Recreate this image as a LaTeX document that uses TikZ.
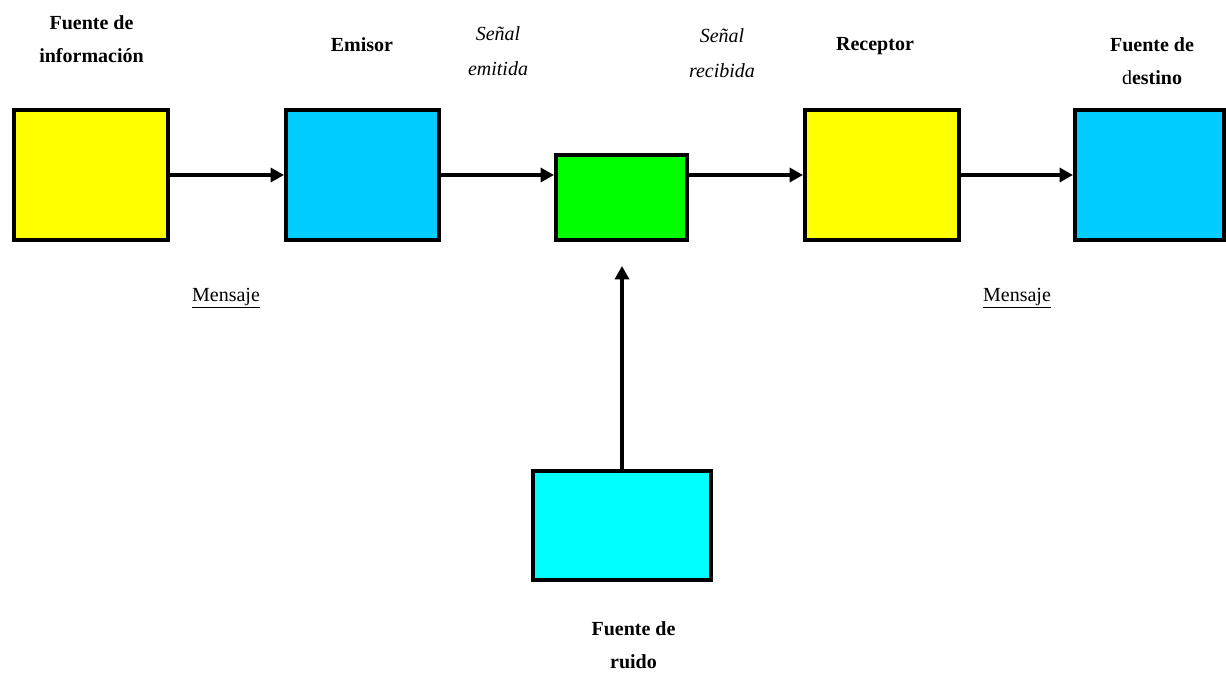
\documentclass[tikz,border=0pt]{standalone}
\usepackage{fontspec}
\setmainfont{Liberation Serif}
\usetikzlibrary{arrows.meta}
\definecolor{boxyellow}{HTML}{FFFF00}
\definecolor{boxblue}{HTML}{00CCFF}
\definecolor{boxgreen}{HTML}{00FF00}
\definecolor{boxcyan}{HTML}{00FFFF}
\begin{document}
\begin{tikzpicture}[x=0.75pt,y=-0.75pt,
  block/.style={draw=black,line width=3pt,minimum width=#1*0.75pt,inner sep=0pt},
  flow/.style={line width=2.4pt,-{Triangle[length=10pt,width=10.5pt]}},
  title/.style={font=\fontsize{15}{25}\selectfont\bfseries,align=center,inner sep=0pt},
  signal/.style={font=\fontsize{15}{26.25}\selectfont\itshape,align=center,inner sep=0pt},
  msg/.style={font=\fontsize{15}{18}\selectfont,inner sep=0pt}]
\useasboundingbox (0,0) rectangle (1226,673);

% main chain of blocks
\node[block=154,minimum height=97.5pt,fill=boxyellow] (src)  at (91,175) {};
\node[block=153,minimum height=97.5pt,fill=boxblue]   (tx)   at (362.5,175) {};
\node[block=131,minimum height=63.75pt,fill=boxgreen] (chan) at (621.5,197.5) {};
\node[block=154,minimum height=97.5pt,fill=boxyellow] (rx)   at (882,175) {};
\node[block=149,minimum height=97.5pt,fill=boxblue]   (dst)  at (1149.5,175) {};
% noise source
\node[block=178,minimum height=81.75pt,fill=boxcyan]  (noise) at (622,525.5) {};
\coordinate (noisetip) at (622,266);

% connectors
\draw[flow] (src.east) -- (tx.west);
\draw[flow] (tx.east) -- (tx.east -| chan.west);
\draw[flow] (rx.west -| chan.east) -- (rx.west);
\draw[flow] (rx.east) -- (dst.west);
\draw[flow] (noise.north) -- (noisetip);

% labels
\node[title] (lsrc) at (91.5,39) {Fuente de\\información};
\node[title] (ltx) at (362,45) {Emisor};
\node[signal] (lemit) at (498,51) {Señal\\emitida};
\node[signal] (lrecv) at (722,53.5) {Señal\\recibida};
\node[title] (lrx) at (875,46) {Receptor};
\node[title] (ldst) at (1152,61) {Fuente de\\\textmd{d}estino};
\node[msg] (m1) at (226,298) {\underline{Mensaje}};
\node[msg] (m2) at (1017,298) {\underline{Mensaje}};
\node[title] (lnoise) at (633.5,645) {Fuente de\\ruido};
\end{tikzpicture}
\end{document}
